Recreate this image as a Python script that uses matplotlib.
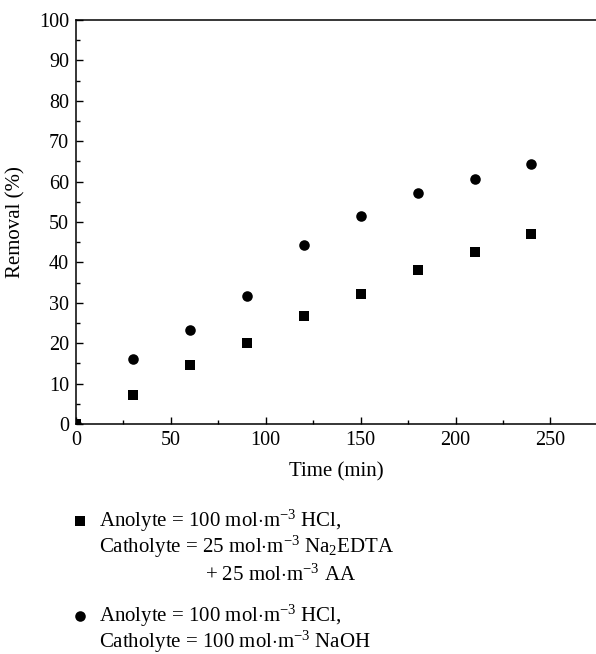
import matplotlib
matplotlib.use("Agg")
from matplotlib import pyplot as plt
from matplotlib.lines import Line2D
from matplotlib.ticker import MultipleLocator

plt.rcParams['font.family'] = ['Liberation Serif', 'DejaVu Serif']
plt.rcParams['mathtext.fontset'] = 'custom'
plt.rcParams['mathtext.rm'] = 'Liberation Serif'
plt.rcParams['mathtext.it'] = 'Liberation Serif:italic'

# data
time_min = [0, 30, 60, 90, 120, 150, 180, 210, 240]
removal_edta = [0, 7.3, 14.5, 20.0, 26.8, 32.3, 38.1, 42.6, 47.0]
removal_naoh = [0, 16.0, 23.2, 31.6, 44.3, 51.5, 57.1, 60.7, 64.3]

legend_edta = [r"Anolyte = 100 mol$\cdot$m$^{-3}$ HCl,",
               r"Catholyte = 25 mol$\cdot$m$^{-3}$ Na$_2$EDTA",
               r"+ 25 mol$\cdot$m$^{-3}$ AA"]
legend_naoh = [r"Anolyte = 100 mol$\cdot$m$^{-3}$ HCl,",
               r"Catholyte = 100 mol$\cdot$m$^{-3}$ NaOH"]

W, H = 596, 654
fig = plt.figure(figsize=(W / 100, H / 100), dpi=100)
ax = fig.add_axes([76 / W, (H - 424) / H, 520 / W, 404 / H])

ax.scatter(time_min, removal_edta, marker='s', s=6.5 ** 2, color='black', linewidths=0)
ax.scatter(time_min, removal_naoh, marker='o', s=7.6 ** 2, color='black', linewidths=0)

ax.set_xlim(0, 274)
ax.set_ylim(0, 100)
ax.xaxis.set_major_locator(MultipleLocator(50))
ax.xaxis.set_minor_locator(MultipleLocator(25))
ax.yaxis.set_major_locator(MultipleLocator(10))
ax.yaxis.set_minor_locator(MultipleLocator(5))
ax.tick_params(which='both', direction='in', width=1.0, labelsize=14.5, pad=5)
ax.tick_params(which='major', length=5)
ax.tick_params(which='minor', length=3)
ax.spines['right'].set_visible(False)
for s in ['left', 'bottom', 'top']:
    ax.spines[s].set_linewidth(1.1)

ax.set_xlabel("Time (min)", fontsize=15)
ax.xaxis.set_label_coords(0.5, -0.094)
ax.set_ylabel("Removal (%)", fontsize=15)
ax.yaxis.set_label_coords(-0.097, 0.5)

# legend below the plot (manual, marker next to first line of each entry)
x_mark = 80 / W
x_text = 99 / W
x_cont = 205 / W   # continuation line "+ 25 ..." is indented
rows_edta = [521, 547, 575]
rows_naoh = [616, 642]
for lines, rows, mk, ms in [(legend_edta, rows_edta, 's', 6.5), (legend_naoh, rows_naoh, 'o', 7.6)]:
    fig.add_artist(Line2D([x_mark], [1 - rows[0] / H], marker=mk, markersize=ms,
                          color='black', markeredgewidth=0, linestyle='none'))
    for txt, r in zip(lines, rows):
        x = x_cont if txt.startswith('+') else x_text
        fig.text(x, 1 - r / H, txt, fontsize=15, va='center', ha='left')

fig.savefig("out.png", dpi=100)
